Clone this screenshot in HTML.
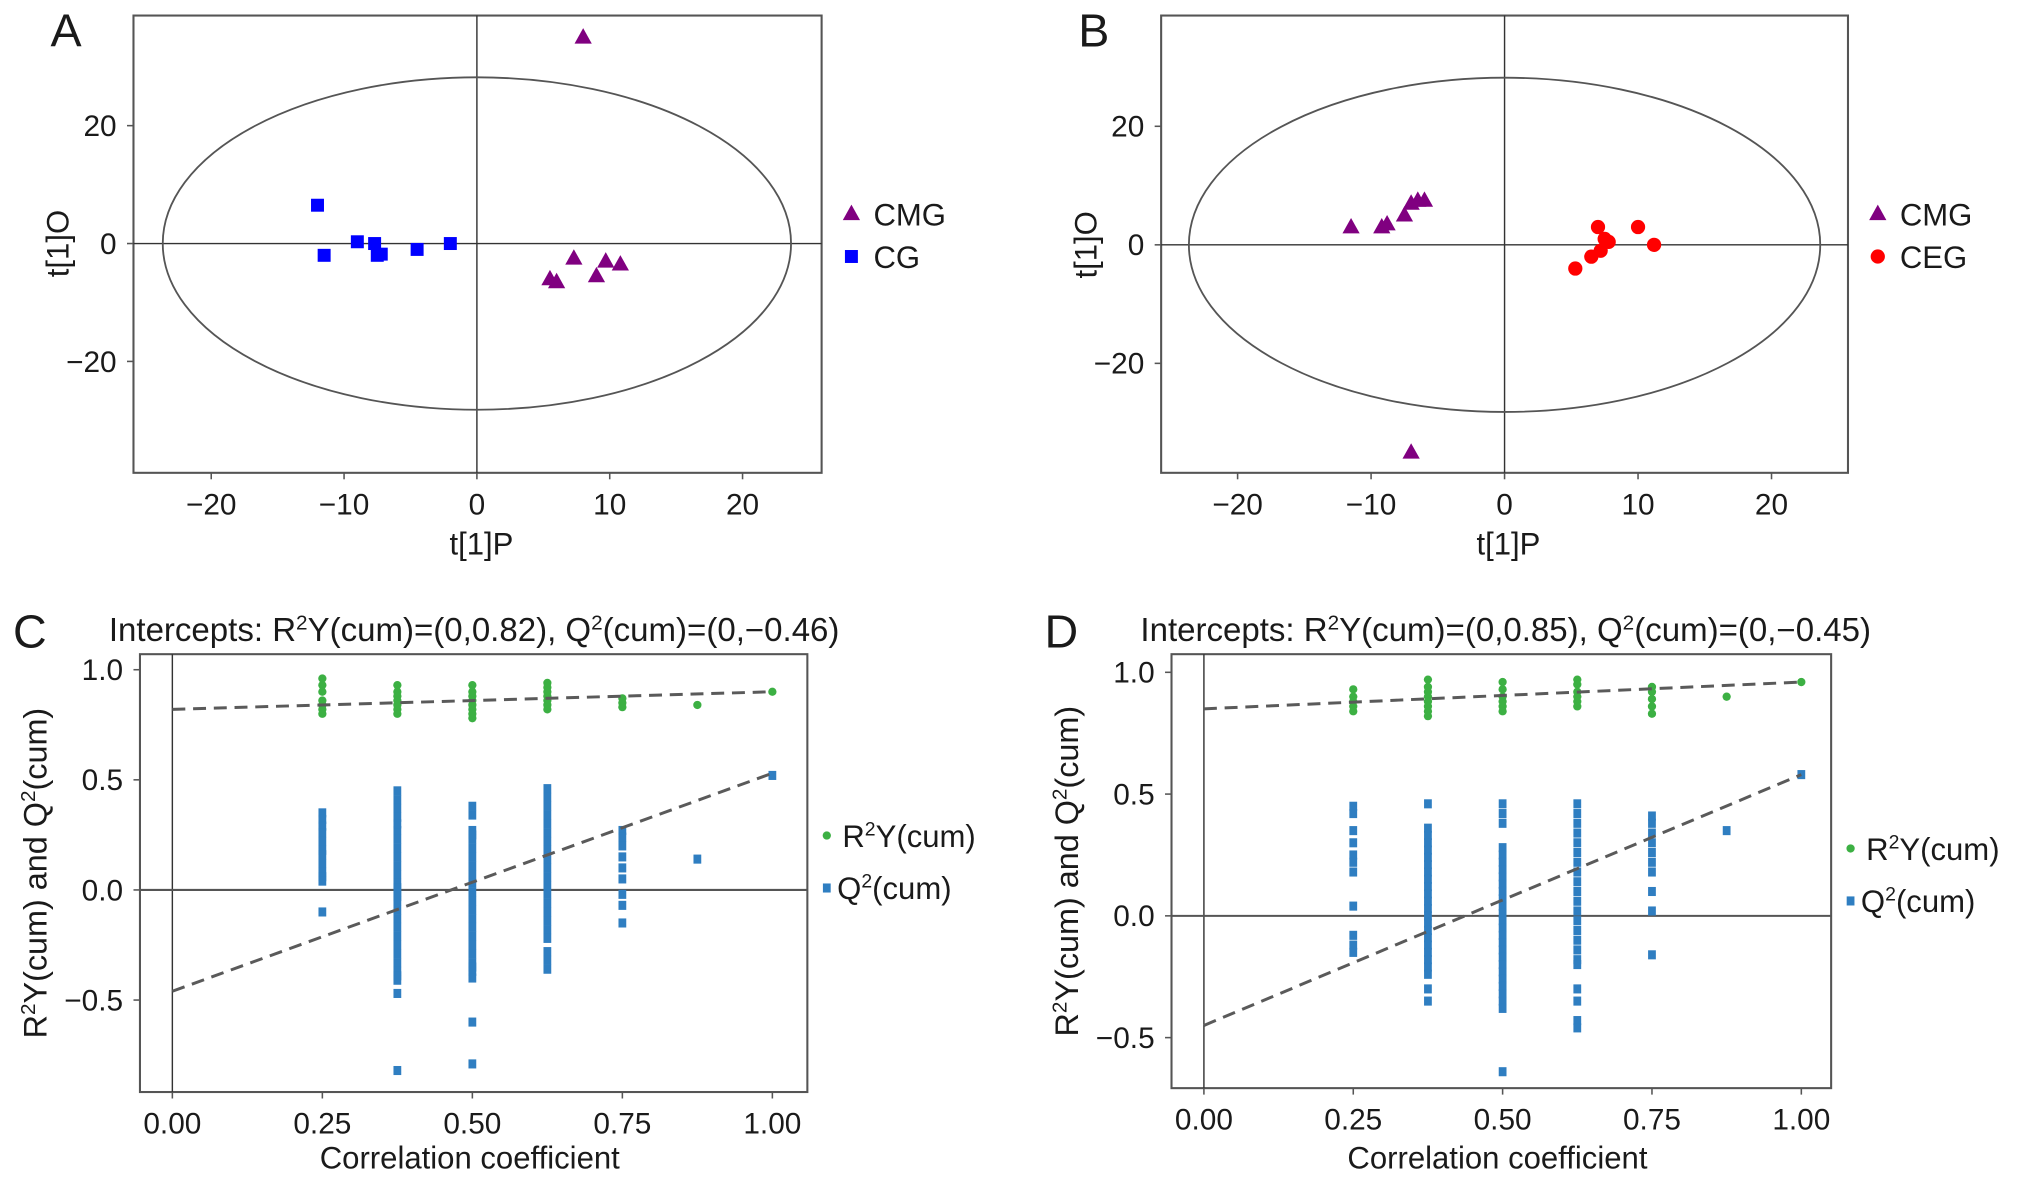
<!DOCTYPE html>
<html><head><meta charset="utf-8"><title>OPLS-DA plots</title>
<style>
html,body{margin:0;padding:0;background:#fff;}
svg{display:block;font-family:"Liberation Sans",sans-serif;}
</style></head>
<body>
<svg id="fig" width="2032" height="1184" viewBox="0 0 1568 914" preserveAspectRatio="none" xmlns="http://www.w3.org/2000/svg"></svg>
<script>
// ---- Panel A data ----
const aCgX = [-12, -11.5, -9, -7.7, -7.5, -7.2, -4.5, -2];
const aCgY = [6.5, -2, 0.3, 0, -2, -1.8, -1, 0];
const aCmgX = [8, 5.5, 6, 7.3, 9, 9.7, 10.8];
const aCmgY = [35, -6, -6.5, -2.5, -5.5, -3, -3.5];
// ---- Panel B data ----
const bCmgX = [-11.5, -9.2, -8.8, -7.5, -7, -6.5, -6, -7];
const bCmgY = [3, 3, 3.5, 5, 7, 7.5, 7.5, -35];
const bCegX = [5.3, 6.5, 7, 7.2, 7.5, 7.8, 10, 11.2];
const bCegY = [-4, -2, 3, -1, 1, 0.5, 3, 0];
const abTicksX = [-20, -10, 0, 10, 20];
const abTicksY = [-20, 0, 20];
// ---- Panel C data ----
const cR2X = [0.25,0.25,0.25,0.25,0.25,0.25,0.25, 0.375,0.375,0.375,0.375,0.375,0.375,0.375, 0.5,0.5,0.5,0.5,0.5,0.5,0.5,0.5, 0.625,0.625,0.625,0.625,0.625,0.625,0.625, 0.75,0.75,0.75, 0.875, 1.0];
const cR2Y = [0.96,0.93,0.9,0.86,0.84,0.82,0.8, 0.93,0.9,0.88,0.86,0.84,0.82,0.8, 0.93,0.9,0.88,0.86,0.84,0.82,0.8,0.78, 0.94,0.92,0.9,0.88,0.86,0.84,0.82, 0.87,0.85,0.83, 0.84, 0.9];
const cQ2X = [0.25,0.25,0.25,0.25,0.25,0.25,0.25,0.25,0.25,0.25,0.25,0.25,
 0.375,0.375,0.375,0.375,0.375,0.375,0.375,0.375,0.375,0.375,0.375,0.375,0.375,0.375,0.375,0.375,0.375,0.375,0.375,0.375,0.375,0.375,0.375,0.375,0.375,0.375,0.375,0.375,
 0.5,0.5,0.5,0.5,0.5,0.5,0.5,0.5,0.5,0.5,0.5,0.5,0.5,0.5,0.5,0.5,0.5,0.5,0.5,0.5,0.5,0.5,0.5,0.5,
 0.625,0.625,0.625,0.625,0.625,0.625,0.625,0.625,0.625,0.625,0.625,0.625,0.625,0.625,0.625,0.625,0.625,0.625,0.625,0.625,0.625,
 0.75,0.75,0.75,0.75,0.75,0.75,0.75,0.75,0.75, 0.875, 1.0];
const cQ2Y = [0.35,0.32,0.29,0.26,0.22,0.18,0.16,0.12,0.08,0.06,0.04,-0.1,
 0.45,0.41,0.37,0.33,0.27,0.23,0.19,0.15,0.11,0.07,0.03,-0.01,-0.05,-0.09,-0.13,-0.17,-0.21,-0.25,-0.29,-0.33,-0.37,-0.41,-0.47,-0.82,0.3,0.01,-0.03,-0.39,
 0.38,0.34,0.27,0.23,0.19,0.15,0.11,0.07,0.03,-0.01,-0.05,-0.09,-0.13,-0.17,-0.21,-0.25,-0.29,-0.33,-0.37,-0.4,-0.6,-0.79,0.25,-0.35,
 0.46,0.42,0.38,0.34,0.3,0.26,0.22,0.18,0.14,0.1,0.06,0.02,-0.02,-0.06,-0.1,-0.14,-0.18,-0.22,-0.28,-0.32,-0.36,
 0.27,0.24,0.2,0.15,0.1,0.05,-0.02,-0.07,-0.15, 0.14, 0.52];
const cIntercepts = [0.82, -0.46];
const cEnds = [0.9, 0.53];
// ---- Panel D data ----
const dR2X = [0.25,0.25,0.25,0.25,0.25, 0.375,0.375,0.375,0.375,0.375,0.375,0.375,0.375, 0.5,0.5,0.5,0.5,0.5,0.5, 0.625,0.625,0.625,0.625,0.625,0.625, 0.75,0.75,0.75,0.75,0.75, 0.875, 1.0];
const dR2Y = [0.93,0.9,0.88,0.86,0.84, 0.97,0.94,0.92,0.9,0.88,0.86,0.84,0.82, 0.96,0.93,0.9,0.88,0.86,0.84, 0.97,0.95,0.92,0.9,0.88,0.86, 0.94,0.92,0.89,0.86,0.83, 0.9, 0.96];
const dQ2X = [0.25,0.25,0.25,0.25,0.25,0.25,0.25,0.25,0.25,0.25,0.25,
 0.375,0.375,0.375,0.375,0.375,0.375,0.375,0.375,0.375,0.375,0.375,0.375,0.375,0.375,0.375,0.375,0.375,0.375,0.375,0.375,0.375,0.375,0.375,0.375,
 0.5,0.5,0.5,0.5,0.5,0.5,0.5,0.5,0.5,0.5,0.5,0.5,0.5,0.5,0.5,0.5,0.5,0.5,0.5,0.5,0.5,0.5,0.5,0.5,0.5,0.5,0.5,
 0.625,0.625,0.625,0.625,0.625,0.625,0.625,0.625,0.625,0.625,0.625,0.625,0.625,0.625,0.625,0.625,0.625,0.625,0.625,0.625,0.625,0.625,
 0.75,0.75,0.75,0.75,0.75,0.75,0.75,0.75,0.75,0.75, 0.875, 1.0];
const dQ2Y = [0.45,0.42,0.35,0.3,0.25,0.22,0.18,0.04,-0.08,-0.12,-0.15,
 0.46,0.36,0.33,0.3,0.27,0.24,0.21,0.18,0.15,0.12,0.09,0.06,0.03,0,-0.03,-0.06,-0.09,-0.12,-0.15,-0.18,-0.21,-0.24,-0.3,-0.35,
 0.46,0.42,0.38,0.28,0.25,0.22,0.19,0.16,0.13,0.1,0.07,0.04,0.01,-0.02,-0.05,-0.08,-0.11,-0.14,-0.17,-0.2,-0.23,-0.26,-0.29,-0.32,-0.35,-0.38,-0.64,
 0.46,0.42,0.38,0.34,0.3,0.26,0.22,0.18,0.14,0.1,0.06,0.02,-0.02,-0.06,-0.1,-0.14,-0.18,-0.2,-0.3,-0.35,-0.43,-0.46,
 0.41,0.38,0.34,0.3,0.26,0.22,0.18,0.1,0.02,-0.16, 0.35, 0.58];
const dIntercepts = [0.85, -0.45];
const dEnds = [0.96, 0.58];
const cdTicksX = [0, 0.25, 0.5, 0.75, 1.0];
const cdTicksY = [-0.5, 0, 0.5, 1.0];

const NS = "http://www.w3.org/2000/svg";
const svg = document.getElementById('fig');
function mk(tag, attrs, parent){
  const e = document.createElementNS(NS, tag);
  for (const k in attrs) e.setAttribute(k, attrs[k]);
  (parent || svg).appendChild(e);
  return e;
}
function txt(s, x, y, size, anchor, parent){
  const t = mk('text', {x:x, y:y, 'font-size':size, 'text-anchor':anchor||'middle', fill:'#1a1a1a'}, parent);
  t.textContent = s;
  return t;
}
function lin(d0,d1,r0,r1){ return v => r0 + (v-d0)*(r1-r0)/(d1-d0); }

function tri(g, cx, cy, s, fill){
  return mk('polygon', {points:`${cx},${cy-s} ${cx-s*0.95},${cy+s*0.7} ${cx+s*0.95},${cy+s*0.7}`, fill:fill}, g);
}

function frameAxes(g, box, sx, sy, ticksX, ticksY, fmtX, fmtY){
  mk('rect', {x:box.x0, y:box.y0, width:box.x1-box.x0, height:box.y1-box.y0, fill:'none', stroke:'#555', 'stroke-width':1.6}, g);
  ticksX.forEach(t => {
    mk('line', {x1:sx(t), x2:sx(t), y1:box.y1, y2:box.y1+5, stroke:'#555', 'stroke-width':1.2}, g);
    const e = txt(fmtX(t), sx(t), box.y1+32, 23, 'middle', g);
    
    
  });
  ticksY.forEach(t => {
    mk('line', {x1:box.x0-5, x2:box.x0, y1:sy(t), y2:sy(t), stroke:'#555', 'stroke-width':1.2}, g);
    const e = txt(fmtY(t), box.x0-13, sy(t)+8, 23, 'end', g);
    
    
  });
}
const fmtInt = v => v < 0 ? '\u2212' + Math.abs(v) : String(v);
const fmt2 = v => v < 0 ? '\u2212' + Math.abs(v).toFixed(2) : v.toFixed(2);
const fmt1 = v => v < 0 ? '\u2212' + Math.abs(v).toFixed(1) : v.toFixed(1);

// ---------- Score plots (A, B) ----------
function scorePanel(name, letter, box, x0px, x20px, cyPx, y20px, s1, s2){
  const g = mk('g', {});
  
  
  const sx = lin(0, 20, x0px, x20px);
  const sy = lin(0, 20, cyPx, y20px);
  frameAxes(g, box, sx, sy, abTicksX, abTicksY, fmtInt, fmtInt);
  const vx = mk('line', {x1:sx(0), x2:sx(0), y1:box.y0, y2:box.y1, stroke:'#333', 'stroke-width':1.1}, g);
  
  
  const hz = mk('line', {x1:box.x0, x2:box.x1, y1:sy(0), y2:sy(0), stroke:'#333', 'stroke-width':1.1}, g);
  
  
  const el = mk('ellipse', {cx:sx(0), cy:sy(0), rx:sx(23.65)-sx(0), ry:sy(0)-sy(28.2), fill:'none', stroke:'#555', 'stroke-width':1.4}, g);
  
  
  [s1, s2].forEach(s => {
    s.xs.forEach((v, i) => {
      let m;
      if (s.shape === 'tri') m = tri(g, sx(v), sy(s.ys[i]), 7, s.color);
      else if (s.shape === 'sq') m = mk('rect', {x:sx(v)-5, y:sy(s.ys[i])-5, width:10, height:10, fill:s.color}, g);
      else m = mk('circle', {cx:sx(v), cy:sy(s.ys[i]), r:5.5, fill:s.color}, g);
      
      
    });
  });
  const lx = box.x1 + 23;
  [s1, s2].forEach((s, k) => {
    const ly = 165 + k*33;
    let m;
    if (s.shape === 'tri') m = tri(g, lx, ly, 7, s.color);
    else if (s.shape === 'sq') m = mk('rect', {x:lx-5, y:ly-5, width:10, height:10, fill:s.color}, g);
    else m = mk('circle', {cx:lx, cy:ly, r:5.5, fill:s.color}, g);
    
    
    const t = txt(s.label, lx + 17, ly + 9, 24, 'start', g);
    
    
  });
  const L = txt(letter, box.x0 - 64, 36, 36, 'start', g);
  
  
  const xt = txt('t[1]P', (box.x0+box.x1)/2 + 3, 428, 24, 'middle', g);
  
  
  const yt = txt('t[1]O', 0, 0, 24, 'middle', g);
  yt.setAttribute('transform', `translate(${box.x0-50},${sy(0)}) rotate(-90)`);
  
  
}

scorePanel('panel-a-score-plot', 'A', {x0:103, x1:634, y0:12, y1:365}, 368, 573, 188, 97,
  {xs:aCmgX, ys:aCmgY, shape:'tri', color:'#800080', label:'CMG'},
  {xs:aCgX, ys:aCgY, shape:'sq', color:'#0000ff', label:'CG'});
scorePanel('panel-b-score-plot', 'B', {x0:896, x1:1426, y0:12, y1:365}, 1161, 1367, 189, 97.5,
  {xs:bCmgX, ys:bCmgY, shape:'tri', color:'#800080', label:'CMG'},
  {xs:bCegX, ys:bCegY, shape:'circ', color:'#ff0000', label:'CEG'});

// ---------- Permutation plots (C, D) ----------
function permPanel(name, letter, box, x0px, x1px, y0px, y1px, r2x, r2y, q2x, q2y, ints, ends, title, legY){
  const g = mk('g', {});
  
  
  const sx = lin(0, 1, x0px, x1px);
  const sy = lin(0, 1, y0px, y1px);
  frameAxes(g, box, sx, sy, cdTicksX, cdTicksY, fmt2, fmt1);
  const vx = mk('line', {x1:sx(0), x2:sx(0), y1:box.y0, y2:box.y1, stroke:'#333', 'stroke-width':1.1}, g);
  
  
  const hz = mk('line', {x1:box.x0, x2:box.x1, y1:sy(0), y2:sy(0), stroke:'#555', 'stroke-width':1.6}, g);
  
  
  r2x.forEach((v, i) => {
    const c = mk('circle', {cx:sx(v), cy:sy(r2y[i]), r:3.2, fill:'#3cb043'}, g);
    
    
  });
  q2x.forEach((v, i) => {
    const r = mk('rect', {x:sx(v)-3, y:sy(q2y[i])-3.5, width:6, height:7, fill:'#2f7ec1'}, g);
    
    
  });
  ['r2y','q2'].forEach((nm, k) => {
    const l = mk('line', {x1:sx(0), y1:sy(ints[k]), x2:sx(1), y2:sy(ends[k]), stroke:'#5a5a5a', 'stroke-width':2.3, 'stroke-dasharray':'10,6'}, g);
    
    
  });
  const lx = box.x1 + 15;
  const c = mk('circle', {cx:lx, cy:legY, r:3.2, fill:'#3cb043'}, g);
  
  
  const t1 = mk('text', {x:lx+12, y:legY+9, 'font-size':24, fill:'#1a1a1a'}, g);
  t1.innerHTML = 'R<tspan dy="-9" font-size="15">2</tspan><tspan dy="9">Y(cum)</tspan>';
  
  
  const r = mk('rect', {x:lx-3, y:legY+37, width:6, height:7, fill:'#2f7ec1'}, g);
  
  
  const t2 = mk('text', {x:lx+8, y:legY+49, 'font-size':24, fill:'#1a1a1a'}, g);
  t2.innerHTML = 'Q<tspan dy="-9" font-size="15">2</tspan><tspan dy="9">(cum)</tspan>';
  
  
  const L = txt(letter, box.x0 - 98, 500, 36, 'start', g);
  
  
  const tt = mk('text', {x:box.x0 - 24, y:495, 'font-size':25.5, fill:'#1a1a1a'}, g);
  tt.innerHTML = title;
  
  
  const xt = txt('Correlation coefficient', (box.x0+box.x1)/2 - 3, 902, 24, 'middle', g);
  
  
  const yt = mk('text', {'font-size':25, 'text-anchor':'middle', fill:'#1a1a1a'}, g);
  yt.innerHTML = 'R<tspan dy="-9" font-size="16">2</tspan><tspan dy="9">Y(cum) and Q</tspan><tspan dy="-9" font-size="16">2</tspan><tspan dy="9">(cum)</tspan>';
  yt.setAttribute('transform', `translate(${box.x0-72},${(box.y0+box.y1)/2}) rotate(-90)`);
  
  
}
permPanel('panel-c-permutation-plot', 'C', {x0:108, x1:623, y0:505, y1:843}, 133, 596, 687, 517,
  cR2X, cR2Y, cQ2X, cQ2Y, cIntercepts, cEnds,
  'Intercepts: R<tspan dy="-9" font-size="16">2</tspan><tspan dy="9">Y(cum)=(0,0.82), Q</tspan><tspan dy="-9" font-size="16">2</tspan><tspan dy="9">(cum)=(0,\u22120.46)</tspan>', 645);
permPanel('panel-d-permutation-plot', 'D', {x0:904, x1:1413, y0:505, y1:840}, 929, 1390, 707, 519,
  dR2X, dR2Y, dQ2X, dQ2Y, dIntercepts, dEnds,
  'Intercepts: R<tspan dy="-9" font-size="16">2</tspan><tspan dy="9">Y(cum)=(0,0.85), Q</tspan><tspan dy="-9" font-size="16">2</tspan><tspan dy="9">(cum)=(0,\u22120.45)</tspan>', 655);
</script>
</body></html>
